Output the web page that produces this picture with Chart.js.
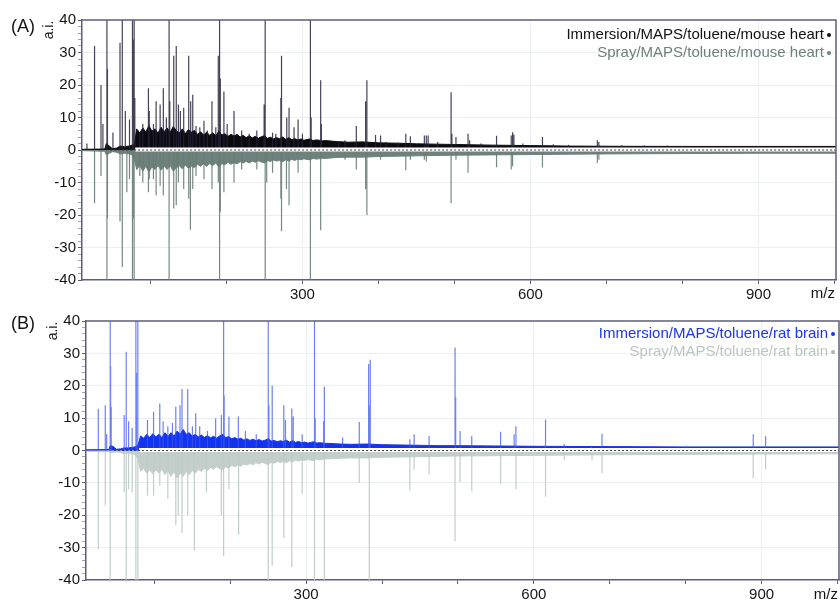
<!DOCTYPE html>
<html>
<head>
<meta charset="utf-8">
<script src="https://cdn.jsdelivr.net/npm/chart.js@4/dist/chart.umd.min.js"></script>
<style>
	body { margin: 0; background: #fff; }
	#wrap { position: relative; width: 840px; height: 601px; font-family: "Liberation Sans", Arial, sans-serif; color: #151515; }
	canvas { position: absolute; left: 0; }
	.tag { position: absolute; font-size: 18px; line-height: 20px; }
	.ai { position: absolute; font-size: 14px; line-height: 14px; transform: translate(-50%, -50%) rotate(-90deg); white-space: nowrap; }
	.mz { position: absolute; font-size: 15px; line-height: 16px; }
	.legend { position: absolute; text-align: right; font-size: 15px; line-height: 17.5px; white-space: nowrap; }
	.dot { display: inline-block; width: 4px; height: 4px; border-radius: 50%; margin-left: 3px; vertical-align: middle; }
</style>
</head>
<body>
<div id="wrap">
	<canvas id="chartA" width="840" height="302" style="top:0"></canvas>
	<canvas id="chartB" width="840" height="301" style="top:300px"></canvas>

	<div class="tag" style="left:11px;top:16px">(A)</div>
	<div class="ai" style="left:48px;top:30px">a.i.</div>
	<div class="mz" style="right:5px;top:285px">m/z</div>
	<div class="legend" style="right:9px;top:25px">
		<div style="color:#111">Immersion/MAPS/toluene/mouse heart<span class="dot" style="background:#111"></span></div>
		<div style="color:#6f817c">Spray/MAPS/toluene/mouse heart<span class="dot" style="background:#6f817c"></span></div>
	</div>

	<div class="tag" style="left:11px;top:313px">(B)</div>
	<div class="ai" style="left:52px;top:331px">a.i.</div>
	<div class="mz" style="right:2px;top:586px">m/z</div>
	<div class="legend" style="right:5px;top:324px">
		<div style="color:#1a35ee">Immersion/MAPS/toluene/rat brain<span class="dot" style="background:#1a35ee"></span></div>
		<div style="color:#b9c7c3">Spray/MAPS/toluene/rat brain<span class="dot" style="background:#a9b7b3"></span></div>
	</div>
</div>

<script>
// axis ticks
const xTicks = [100, 200, 300, 400, 500, 600, 700, 800, 900, 1000];
const xLabels = [300, 600, 900];
const yTicks = [-40, -38, -36, -34, -32, -30, -28, -26, -24, -22, -20, -18, -16, -14, -12, -10, -8, -6, -4, -2, 0,
	2, 4, 6, 8, 10, 12, 14, 16, 18, 20, 22, 24, 26, 28, 30, 32, 34, 36, 38, 40];

// dense low-level signal under the spectra, read at these m/z
const bandMz = [10, 40, 42, 46, 50, 56, 60, 66, 72, 76, 79,
	82, 86, 90, 94, 98, 102, 106, 110, 114, 118, 122, 126, 130, 134, 138, 142, 146, 150, 154, 158,
	162, 166, 170, 174, 178, 182, 186, 190, 194, 198, 202, 206, 210, 214, 218, 222, 226, 230, 234, 238,
	242, 246, 250, 254, 258, 262, 266, 270, 274, 278, 282, 286, 290, 294, 298, 302, 306, 310, 314, 318,
	322, 326, 330,
	345, 360, 380, 400, 425, 450, 475, 500, 550, 600, 650, 700, 800, 900, 1002];
const aTopBand = [0.2, 0.3, 2, 1.2, 0.4, 0.6, 1.2, 1, 1.2, 1.5, 2,
	6.5, 5.2, 6.8, 5.5, 7.5, 5.8, 6.5, 5.2, 7, 5.6, 6.8, 5.4, 7.2, 6, 5.2, 6.5, 5, 6.3, 5.5, 6,
	4.8, 5.6, 4.6, 5.5, 4.5, 5.3, 4.4, 5.8, 4.6, 5, 4.2, 4.8, 4.3, 4.8, 4, 4.5, 3.8, 4.4, 3.7, 4.2,
	3.6, 4.1, 4.4, 3.6, 3.9, 3.4, 3.8, 3.5, 4, 3.3, 3.8, 3.2, 3.5, 3.1, 3.4, 3, 3.2, 3.4, 2.9, 3.1,
	3, 2.8, 2.9,
	2.6, 2.4, 2.5, 2.2, 2.1, 1.9, 1.8, 1.7, 1.5, 1.35, 1.2, 1.15, 1.1, 1.1, 1.1];
const aBotBand = [-0.2, -0.4, -1.5, -1, -0.5, -0.7, -1.2, -1, -1.2, -1.5, -3,
	-6, -4.8, -6.5, -5, -6.8, -5.2, -6, -4.8, -6.2, -5, -6, -4.8, -6.5, -5.5, -4.8, -5.8, -4.6, -5.6, -5, -5.4,
	-4.4, -5, -4.2, -5, -4.2, -4.8, -4, -5.2, -4.2, -4.5, -3.8, -4.4, -3.9, -4.3, -3.6, -4, -3.5, -4, -3.4, -3.8,
	-3.3, -3.7, -4, -3.3, -3.5, -3.1, -3.4, -3.2, -3.6, -3, -3.4, -2.9, -3.2, -2.8, -3, -2.7, -2.9, -3, -2.6, -2.8,
	-2.7, -2.5, -2.6,
	-2.3, -2.2, -2.2, -2, -1.9, -1.8, -1.7, -1.6, -1.5, -1.4, -1.3, -1.2, -1.1, -1, -1];
const bTopBand = [0.2, 0.3, 1.5, 1.2, 0.4, 0.5, 0.8, 0.8, 1, 1.2, 2,
	4.5, 3.8, 5, 4, 5.2, 4.2, 5, 4, 5.5, 4.3, 5.5, 4.4, 6, 5, 6.5, 5, 5.5, 4.4, 5, 4.2,
	4.8, 4, 4.6, 3.9, 4.4, 3.8, 4.5, 5, 4, 4.3, 3.6, 4, 3.5, 3.8, 3.2, 3.6, 3.1, 3.5, 3, 3.4,
	2.9, 3.2, 3.6, 2.9, 3.1, 2.7, 3, 2.8, 3.2, 2.6, 3, 2.5, 2.8, 2.4, 2.6, 2.3, 2.5, 2.7, 2.3, 2.4,
	2.3, 2.2, 2.2,
	2, 1.9, 2, 1.8, 1.7, 1.6, 1.5, 1.5, 1.4, 1.3, 1.25, 1.2, 1.1, 1.1, 1.1];
const bBotBand = [-0.2, -0.3, -0.8, -0.6, -0.5, -0.6, -1, -0.8, -1, -1.5, -3,
	-6.5, -5.5, -7, -6, -7.2, -6, -7, -5.8, -7.5, -6.2, -8, -6.5, -8.5, -7, -8, -6.5, -7.5, -6.2, -7, -5.8,
	-6.5, -5.5, -6.2, -5.2, -5.8, -5, -5.6, -6, -5, -5.4, -4.6, -5, -4.5, -4.8, -4.2, -4.5, -4, -4.4, -3.8, -4.2,
	-3.6, -4, -4.4, -3.6, -3.9, -3.4, -3.7, -3.4, -3.8, -3.2, -3.5, -3, -3.3, -2.9, -3.1, -2.8, -3, -3.1, -2.7, -2.9,
	-2.7, -2.6, -2.6,
	-2.4, -2.3, -2.3, -2.1, -2, -1.9, -1.8, -1.7, -1.6, -1.5, -1.4, -1.3, -1.2, -1.1, -1];

// (A) immersion, mouse heart
const aTopMz = [16.5, 26.5, 35, 37.5, 42.8, 43.5, 50.7, 60, 63, 67, 72.5, 76.4, 77.5, 78.6, 79.5, 86, 90, 97.4, 98.5, 104, 107.5, 112.8, 117, 121, 124.6, 125.5, 130.7, 134, 136.8, 139.4, 143.8, 150.4, 153, 155.7, 160, 165, 170.5, 175, 181, 186, 189.3, 191, 192, 196.7, 201, 210, 220, 230, 240, 249.6, 251, 260.7, 265, 271.6, 272.5, 279.4, 282.4, 289, 294.3, 300, 310.5, 311.5, 324, 325, 347.7, 356, 370.9, 383.1, 384.8, 396.2, 402.8, 410, 426, 436, 442, 460.4, 463, 465.4, 478, 495.6, 496.6, 502, 517.9, 520, 535, 555.4, 574.7, 576.5, 578.2, 590, 615.8, 630, 650, 688, 690, 720, 750, 780];
const aTopInt = [2, 32, 20, 8, 55, 25, 5.4, 33, 55, 12, 9.4, 55, 34, 55, 16, 5, 8, 19, 12, 8, 15, 14, 19, 10, 55, 15, 29, 32, 14, 12, 13, 29, 15, 17, 7.4, 7, 9, 6, 15, 7, 29, 55, 22, 18, 8, 12, 6, 5, 6, 14, 55, 5.3, 5, 16, 29, 10, 13, 7, 9.4, 5, 55, 10, 21.5, 8, 2.5, 3, 7.4, 15, 21.5, 4.6, 4.5, 2.5, 2.3, 5, 4.2, 4.5, 4.5, 4.5, 2.5, 17.8, 5, 4, 5, 3, 2, 4.4, 4.5, 5.5, 4.8, 2, 4, 1.8, 1.6, 3, 2.5, 1.5, 1.4, 1.4];
// (A) spray, mouse heart (mirrored)
const aBotMz = [26.5, 35, 42.8, 43.5, 60, 63, 69, 72.5, 76.4, 77.5, 78.6, 86, 90, 97.4, 98.5, 104, 107.5, 112.8, 117, 124.6, 130.7, 134, 136.8, 143.8, 150.4, 152.6, 155.7, 160, 170.5, 181, 189.3, 191, 192, 196.7, 210, 220, 240, 251, 253, 260.7, 271.6, 272.5, 279, 282.4, 294.3, 310.5, 324, 356, 370.9, 383.1, 384.8, 402.8, 436, 442, 460.4, 463, 495.6, 502, 517.9, 555.4, 574.7, 576.5, 615.8, 688, 690];
const aBotInt = [-16.4, -8, -55, -21, -22, -36, -13, -9, -55, -21, -55, -8, -10, -13, -9, -9, -14, -11, -14, -55, -18, -17, -10, -12, -15, -24.5, -12, -8, -9, -12, -10, -55, -19, -13, -10, -6, -6, -55, -10, -7, -15, -25, -12, -17, -7, -55, -24.7, -3, -6, -12, -20, -3, -6.2, -3, -3, -3.5, -16.4, -3, -7, -5.3, -6, -5, -5.4, -4, -3];

// (B) immersion, rat brain
const bTopMz = [26.2, 35.4, 37.2, 41.9, 42.4, 43.2, 60.3, 63, 66.1, 70.8, 75.7, 76.5, 78.3, 91, 99, 107.2, 111.6, 117.8, 123.9, 128.3, 133.9, 136.5, 144, 150.2, 154.5, 159.8, 170, 180.8, 188.3, 191.3, 192, 198.3, 210.7, 220, 234.3, 250.1, 251, 255.3, 270.6, 272.8, 281.1, 283, 294.8, 311, 312, 323, 324, 348, 370, 382.3, 383.5, 384.5, 436.7, 442.3, 462, 496.2, 497, 502.8, 518.2, 556.2, 574, 576.4, 615.4, 640, 675.8, 689.8, 801, 889, 905.3];
const bTopInt = [12.9, 14, 5, 55, 26, 13.5, 11, 30.5, 9, 7, 55, 24, 55, 9.5, 12, 14.5, 9, 7.5, 8.5, 13.5, 14, 19, 19, 7.5, 11.5, 7.5, 6, 10, 11, 55, 17, 10.5, 10.5, 6, 5, 55, 14, 20, 14, 9.5, 13, 10.5, 5, 55, 10, 9, 19.7, 4, 8.8, 26.7, 14, 28, 3.5, 5, 4.5, 31.8, 16.5, 6, 4.5, 5.8, 5, 7.5, 9.6, 2, 1.5, 5.2, 1.5, 5, 4.4];
// (B) spray, rat brain (mirrored)
const bBotMz = [26.2, 35.4, 41.9, 60.3, 63, 66.1, 70.8, 75.7, 78.3, 91, 99, 107.2, 117.8, 128.3, 131.5, 136.5, 144, 152.8, 168.6, 188.3, 191.3, 198.3, 211, 250.1, 255.3, 270.6, 281.1, 294.8, 311, 324, 370, 383.2, 436.7, 442.3, 462, 496.2, 502.8, 518.2, 556.2, 576.4, 615.4, 640, 676.6, 689.8, 889, 905.3];
const bBotInt = [-30.6, -17, -55, -13, -55, -12, -13, -55, -55, -14, -14, -11, -15, -23, -20, -25.5, -20, -31, -13, -20, -32.7, -12, -26, -55, -35.6, -27, -36, -13.4, -55, -55, -10, -55, -12.4, -6, -7.4, -28, -9.8, -12.6, -10.5, -12, -14.3, -3, -3, -7, -8.5, -5.8];

const FONT = { family: '"Liberation Sans", Arial, sans-serif', size: 15 };
const AXIS = '#5f5d78';
const GRID = '#eceff2';

function sticks(mz, ints) {
	const pts = [];
	mz.forEach((m, i) => {
		pts.push({ x: m, y: 0 }, { x: m, y: ints[i] }, { x: m, y: null });
	});
	return pts;
}

function band(vals) {
	return bandMz.map((m, i) => ({ x: m, y: vals[i] }));
}

// top and right edges of the plot box
const frame = {
	id: 'frame',
	afterDraw(chart) {
		const { ctx, chartArea: a } = chart;
		ctx.save();
		ctx.strokeStyle = AXIS;
		ctx.lineWidth = 1.5;
		ctx.beginPath();
		ctx.moveTo(a.left, a.top);
		ctx.lineTo(a.right, a.top);
		ctx.lineTo(a.right, a.bottom);
		ctx.stroke();
		ctx.restore();
	},
};

function renderPanel(canvas, s) {
	// eslint-disable-next-line no-new
	new Chart(canvas.getContext('2d'), {
		type: 'line',
		data: {
			datasets: [
				{ data: [{ x: 47, y: 0 }, { x: 1002, y: 0 }], borderColor: '#3b3b3b', borderWidth: 1, borderDash: [2, 2] },
				{ data: [{ x: 80, y: 0.15 }, { x: 1002, y: 0.15 }], borderColor: '#ffffff', borderWidth: 4 },
				{ data: sticks(s.topMz, s.topInt), borderColor: s.topPeak, borderWidth: 1.2, spanGaps: false },
				{ data: band(s.topBand), borderColor: s.topFill, backgroundColor: s.topFill, borderWidth: 1, fill: 'origin' },
				{ data: sticks(s.botMz, s.botInt), borderColor: s.botPeak, borderWidth: 1.2, spanGaps: false },
				{ data: band(s.botBand), borderColor: s.botFill, backgroundColor: s.botFill, borderWidth: 1, fill: 'origin' },
			],
		},
		options: {
			responsive: false,
			animation: false,
			devicePixelRatio: 1,
			layout: { padding: { top: s.top, right: s.right, left: 0, bottom: 0 } },
			plugins: { legend: { display: false }, tooltip: { enabled: false } },
			elements: { point: { radius: 0 }, line: { tension: 0 } },
			scales: {
				x: {
					type: 'linear',
					min: 10,
					max: 1002,
					afterBuildTicks: (axis) => { axis.ticks = xTicks.map((v) => ({ value: v })); },
					afterFit: (axis) => { axis.height = s.xh; },
					ticks: {
						autoSkip: false,
						maxRotation: 0,
						padding: 2,
						color: '#151515',
						font: FONT,
						callback: (v) => (xLabels.includes(v) ? String(v) : ''),
					},
					grid: {
						color: (c) => (c.tick && xLabels.includes(c.tick.value) ? GRID : 'rgba(0,0,0,0)'),
						tickColor: AXIS,
						tickLength: 4,
					},
					border: { color: AXIS, width: 1.5 },
				},
				y: {
					min: -40,
					max: 40,
					afterBuildTicks: (axis) => { axis.ticks = yTicks.map((v) => ({ value: v })); },
					afterFit: (axis) => { axis.width = s.yw; },
					ticks: {
						autoSkip: false,
						padding: 2,
						color: '#151515',
						font: FONT,
						callback: (v) => (v % 10 === 0 ? String(v) : ''),
					},
					grid: {
						color: (c) => (c.tick && c.tick.value % 10 === 0 && Math.abs(c.tick.value) < 40 && c.tick.value !== 0 ? GRID : 'rgba(0,0,0,0)'),
						tickColor: (c) => (c.tick && c.tick.value % 10 === 0 ? AXIS : '#a3a1b5'),
						tickLength: 4,
					},
					border: { color: AXIS, width: 1.5 },
				},
			},
		},
		plugins: [frame],
	});
}

renderPanel(document.getElementById('chartA'), {
	topMz: aTopMz, topInt: aTopInt, topBand: aTopBand, botMz: aBotMz, botInt: aBotInt, botBand: aBotBand,
	topPeak: 'rgba(36,34,56,0.85)', topFill: '#0b0b0f', botPeak: 'rgba(104,124,118,0.9)', botFill: '#6f817c',
	top: 20, right: 4, yw: 82, xh: 22,
});
renderPanel(document.getElementById('chartB'), {
	topMz: bTopMz, topInt: bTopInt, topBand: bTopBand, botMz: bBotMz, botInt: bBotInt, botBand: bBotBand,
	topPeak: 'rgba(60,85,240,0.75)', topFill: '#1233ef', botPeak: 'rgba(190,203,199,0.95)', botFill: '#c4cfcc',
	top: 21, right: 1, yw: 86, xh: 21,
});
</script>
</body>
</html>
